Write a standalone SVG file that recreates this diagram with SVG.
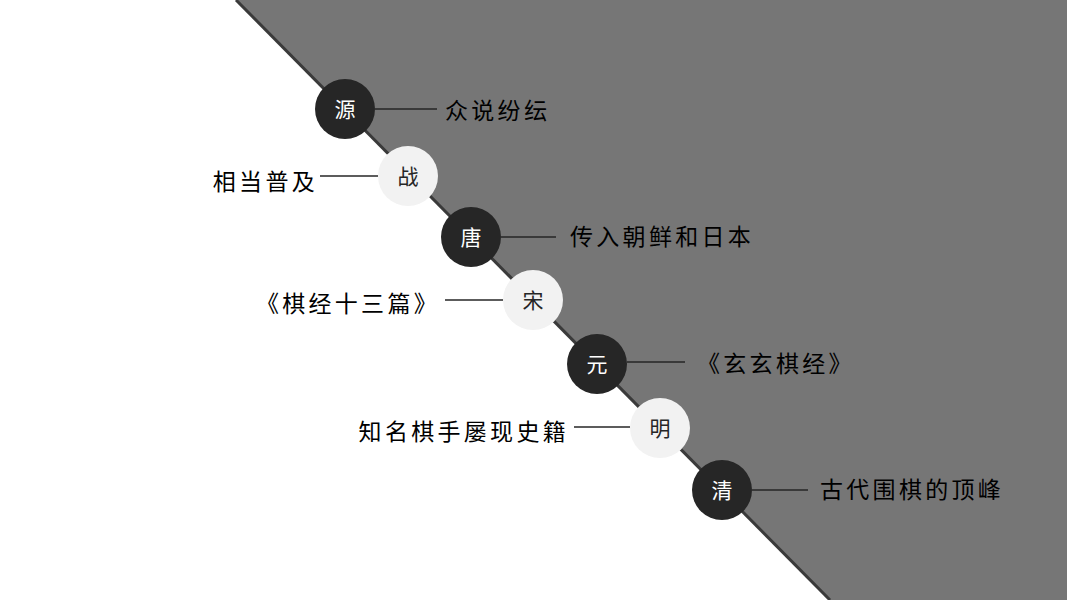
<svg xmlns="http://www.w3.org/2000/svg" width="1067" height="600" viewBox="0 0 1067 600">
<style>
.bg{fill:#ffffff}
.band{fill:#767676}
.edge{stroke:#3a3a3a;stroke-width:3;fill:none}
.dark{fill:#262626}
.light{fill:#f2f2f2}
.conn{stroke:#262626;stroke-width:1.5}
.cl{font-family:"Noto Sans CJK SC","Noto Sans CJK JP",sans-serif;font-size:21px;text-anchor:middle;dominant-baseline:central}
.cw{fill:#ffffff}
.cd{fill:#262626}
.lbl{font-family:"Noto Sans CJK SC","Noto Sans CJK JP",sans-serif;font-size:23px;fill:#000000;letter-spacing:3.3px;dominant-baseline:central}
</style>
<rect class="bg" x="0" y="0" width="1067" height="600"/>
<polygon class="band" points="236,0 1067,0 1067,600 830,600"/>
<line class="edge" x1="236" y1="0" x2="830" y2="600"/>
<g id="connectors">
<line class="conn" x1="375" y1="109" x2="437" y2="109"/>
<line class="conn" x1="320" y1="176" x2="378" y2="176"/>
<line class="conn" x1="501" y1="237" x2="556" y2="237"/>
<line class="conn" x1="445" y1="300" x2="503" y2="300"/>
<line class="conn" x1="627" y1="362" x2="685" y2="362"/>
<line class="conn" x1="574" y1="427" x2="630" y2="427"/>
<line class="conn" x1="752" y1="490" x2="808" y2="490"/>
</g>
<g id="node-yuan">
<circle class="dark" cx="345" cy="109" r="30"/>
<text class="cl cw" x="345" y="108">源</text>
<text class="lbl" x="445" y="109">众说纷纭</text>
</g>
<g id="node-zhan">
<circle class="light" cx="408" cy="176" r="30"/>
<text class="cl cd" x="408" y="175">战</text>
<text class="lbl" x="318" y="180" text-anchor="end">相当普及</text>
</g>
<g id="node-tang">
<circle class="dark" cx="471" cy="237" r="30"/>
<text class="cl cw" x="471" y="236">唐</text>
<text class="lbl" x="570" y="235">传入朝鲜和日本</text>
</g>
<g id="node-song">
<circle class="light" cx="533" cy="300" r="30"/>
<text class="cl cd" x="533" y="299">宋</text>
<text class="lbl" x="440" y="302" text-anchor="end">《棋经十三篇》</text>
</g>
<g id="node-yuan2">
<circle class="dark" cx="597" cy="364" r="30"/>
<text class="cl cw" x="597" y="363">元</text>
<text class="lbl" x="697" y="362">《玄玄棋经》</text>
</g>
<g id="node-ming">
<circle class="light" cx="660" cy="428" r="30"/>
<text class="cl cd" x="660" y="427">明</text>
<text class="lbl" x="569" y="430" text-anchor="end">知名棋手屡现史籍</text>
</g>
<g id="node-qing">
<circle class="dark" cx="722" cy="490" r="30"/>
<text class="cl cw" x="722" y="489">清</text>
<text class="lbl" x="820" y="488">古代围棋的顶峰</text>
</g>
</svg>
